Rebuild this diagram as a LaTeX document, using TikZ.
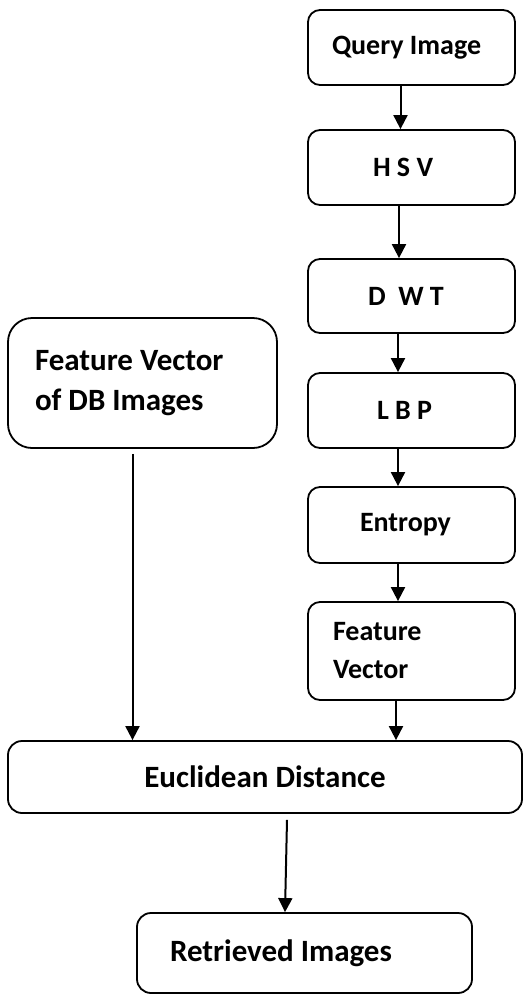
\documentclass[tikz,border=0pt]{standalone}
\usepackage{fontspec}
\setmainfont{Carlito}
\usetikzlibrary{arrows.meta, positioning}

\begin{document}
\begin{tikzpicture}[x=1pt, y=-1pt,
    stepbox/.style={draw, line width=1.8pt, rounded corners=12pt,
      minimum width=207pt, inner sep=0pt, align=flush left,
      font=\fontsize{28}{38}\selectfont\bfseries},
    bigbox/.style={draw, line width=1.8pt, rounded corners=14pt,
      inner sep=0pt, font=\fontsize{31}{40}\selectfont\bfseries},
    flowarrow/.style={draw, line width=2pt,
      -{Triangle[length=14pt, width=14pt]}}]
  \useasboundingbox (0,0) rectangle (531,994);

  \node[stepbox, minimum height=75pt, text width=159pt, inner xsep=24pt]
        (qry) at (411.5,47.5) {Query Image};
  \node[stepbox, minimum height=75pt, text width=77pt, inner xsep=65pt]
        (hsv) at (411.5,167.5) {H S V};
  \node[stepbox, minimum height=74pt, text width=87pt, inner xsep=60pt]
        (dwt) at (411.5,296) {D\ \ W T};
  \node[stepbox, minimum height=75pt, text width=69pt, inner xsep=69pt]
        (lbp) at (411.5,410.5) {L B P};
  \node[stepbox, minimum height=76pt, text width=103pt, inner xsep=52pt]
        (ent) at (411.5,525) {Entropy};
  \node[stepbox, minimum height=98pt, text width=157pt, inner xsep=25pt]
        (fv) at (411.5,651) {Feature\\Vector};

  \node[bigbox, rounded corners=24pt, minimum height=130pt, text width=215pt,
        inner xsep=27pt, align=flush left] (db) at (142.5,383)
        {Feature Vector\\of DB Images};
  \node[bigbox, minimum width=514pt, minimum height=72pt] (euc) at (265,777)
        {Euclidean Distance};
  \node[bigbox, minimum height=80pt, text width=269pt, inner xsep=33pt,
        align=flush left] (ret) at (304.5,953) {Retrieved Images};

  \draw[flowarrow] ([xshift=-11pt]qry.south) -- ([xshift=-11pt]hsv.north);
  \draw[flowarrow] ([xshift=-12.5pt]hsv.south) -- ([xshift=-12.5pt]dwt.north);
  \draw[flowarrow] ([xshift=-13.5pt]dwt.south) -- ([xshift=-13.5pt]lbp.north);
  \draw[flowarrow] ([xshift=-13.5pt]lbp.south) -- ([xshift=-13.5pt]ent.north);
  \draw[flowarrow] ([xshift=-13.5pt]ent.south) -- ([xshift=-13.5pt]fv.north);
  \draw[flowarrow] ([xshift=-15.5pt]fv.south) -- ([xshift=-15.5pt]fv.south |- euc.north);
  \draw[flowarrow] ([xshift=-10pt,yshift=-5pt]db.south) -- ([xshift=-10pt]db.south |- euc.north);
  \draw[flowarrow] ([xshift=22pt,yshift=-6pt]euc.south) -- ([xshift=-19.5pt]ret.north);
\end{tikzpicture}
\end{document}
